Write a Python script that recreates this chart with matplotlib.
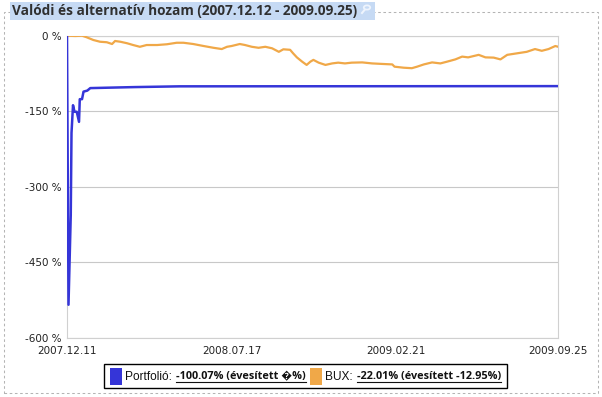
import numpy as np
import matplotlib
matplotlib.use('Agg')
import matplotlib.pyplot as plt
import matplotlib.dates as mdates
from matplotlib.patches import Rectangle, Circle
from matplotlib.lines import Line2D
from matplotlib.transforms import IdentityTransform

W, H = 602, 397

# --- data ---
start_date = np.datetime64('2007-12-11')
x_tick_labels = ['2007.12.11', '2008.07.17', '2009.02.21', '2009.09.25']
y_ticks = [0, -150, -300, -450, -600]
y_tick_labels = ['0 %', '-150 %', '-300 %', '-450 %', '-600 %']

# days since 2007.12.11 and return in %
portfolio_days = [0, 2, 5, 6, 8, 10, 13, 16, 17, 20, 22, 27, 31, 60, 90, 150, 654]
portfolio_vals = [0, -534, -356, -193, -138, -151, -151, -171, -126, -126, -111,
                  -109, -104, -103, -102, -100.5, -100.07]

bux_days = [0, 11, 20, 26, 35, 44, 53, 60, 64, 71, 80, 88, 97, 106, 120, 133, 146,
            155, 168, 182, 195, 206, 213, 219, 230, 237, 246, 255, 264, 273, 282,
            288, 297, 301, 306, 313, 319, 324, 328, 335, 344, 353, 361, 370, 379,
            393, 406, 419, 433, 436, 448, 459, 466, 475, 486, 497, 506, 517, 526,
            534, 548, 557, 568, 577, 586, 599, 612, 623, 632, 641, 650, 654]
bux_vals = [0, -0.6, 0, -3, -8.5, -12, -13, -16.5, -10.5, -12, -15, -18.5, -22,
            -18.5, -18.5, -17, -14, -14, -16.5, -20.5, -24, -26.5, -22, -20.5,
            -16.5, -18.5, -22, -24, -22, -25, -32, -27, -28, -35, -43, -51.5, -58,
            -51.5, -48, -53.5, -58, -55, -53.5, -55, -53.5, -53, -55, -56, -57,
            -61.5, -63.5, -64.5, -61.5, -57, -53, -55, -51.5, -47, -41.5, -43, -38,
            -43, -43.5, -47, -38, -35, -32, -26.5, -30, -26.5, -20.5, -22.01]

port_color = '#3535d8'
bux_color = '#f0a848'


def to_num(days):
    return mdates.date2num(start_date + np.array(days).astype('timedelta64[D]'))


def fx(x):
    return x / W


def fy(y):
    return 1 - y / H


fig = plt.figure(figsize=(W / 100, H / 100), dpi=100, facecolor='white')

# outer dashed frame
fig.add_artist(Rectangle((fx(3.5), fy(392.5)), fx(598) - fx(3.5), fy(12) - fy(392.5),
                         transform=fig.transFigure, fill=False, edgecolor='#b4b4b4',
                         lw=0.75, linestyle=(0, (2.5, 2.5)), zorder=0))

# title bar
fig.add_artist(Rectangle((fx(10), fy(20)), fx(375) - fx(10), fy(2) - fy(20),
                         transform=fig.transFigure, facecolor='#c6daf4',
                         edgecolor='none', zorder=1))
fig.text(fx(12), fy(11.5), 'Valódi és alternatív hozam (2007.12.12 - 2009.09.25)',
         family=['Open Sans', 'DejaVu Sans'], fontweight='bold', fontsize=9.8,
         color='#303030', ha='left', va='center', zorder=2)
# small magnifier icon
fig.add_artist(Circle((fx(367), fy(7.5)), 3.2 / W, transform=fig.transFigure,
                      fill=False, edgecolor='#eef4fd', lw=1.3, zorder=2))
fig.add_artist(Line2D([fx(364.5), fx(362)], [fy(10), fy(13)], transform=fig.transFigure,
                      color='#eef4fd', lw=1.5, zorder=2))

# plot area
ax = fig.add_axes([fx(67), fy(338), fx(558.3) - fx(67), fy(35.7) - fy(338)])
ax.plot(to_num(bux_days), bux_vals, color=bux_color, lw=1.6, zorder=3)
ax.plot(to_num(portfolio_days), portfolio_vals, color=port_color, lw=1.8, zorder=4)

ax.set_ylim(-600, 0)
ax.set_xlim(to_num([0])[0], to_num([654])[0])
tick_dates = mdates.date2num(np.array([s.replace('.', '-') for s in x_tick_labels],
                                      dtype='datetime64[D]'))
ax.set_xticks(tick_dates)
ax.set_xticklabels(x_tick_labels)
ax.set_yticks(y_ticks)
ax.set_yticklabels(y_tick_labels)
ax.tick_params(length=0, labelsize=7.5, colors='#222222')
ax.tick_params(axis='y', pad=4)
ax.tick_params(axis='x', pad=5.5)
ax.grid(axis='y', color='#c8c8c8', lw=0.8)
ax.set_axisbelow(True)
for sp in ax.spines.values():
    sp.set_color('#d0d0d0')
    sp.set_linewidth(0.8)

# legend box built from pieces
renderer = fig.canvas.get_renderer()
ident = IdentityTransform()
base = H - 379.5  # baseline in display px
legend_items = [
    ('swatch', port_color),
    ('Portfolió: ', 'normal'),
    ('-100.07% (évesített \ufffd%)', 'bold'),
    ('gap', None),
    ('swatch', bux_color),
    ('BUX: ', 'normal'),
    ('-22.01% (évesített -12.95%)', 'bold'),
]
x = 110
for item, style in legend_items:
    if item == 'swatch':
        fig.add_artist(Rectangle((x, H - 385), 12, 17, transform=ident,
                                 facecolor=style, edgecolor='none'))
        x += 15
    elif item == 'gap':
        x += 3
    else:
        if style == 'bold':
            fam = ['Open Sans', 'DejaVu Sans']
            size = 7.8
        else:
            fam = ['Liberation Sans', 'DejaVu Sans']
            size = 8.6
        t = fig.text(fx(x), fy(379.5), item, ha='left', va='baseline',
                     family=fam, fontsize=size, fontweight=style, color='#111111')
        bb = t.get_window_extent(renderer)
        if style == 'bold':
            fig.add_artist(Line2D([bb.x0, bb.x1], [base - 2, base - 2], transform=ident,
                                  color='#111111', lw=0.8))
        x = bb.x1 + 1
fig.add_artist(Rectangle((104, H - 387.5), x + 5 - 104, 23.5, transform=ident,
                         fill=False, edgecolor='black', lw=1.0))

fig.savefig('out.png', dpi=100, facecolor='white')
